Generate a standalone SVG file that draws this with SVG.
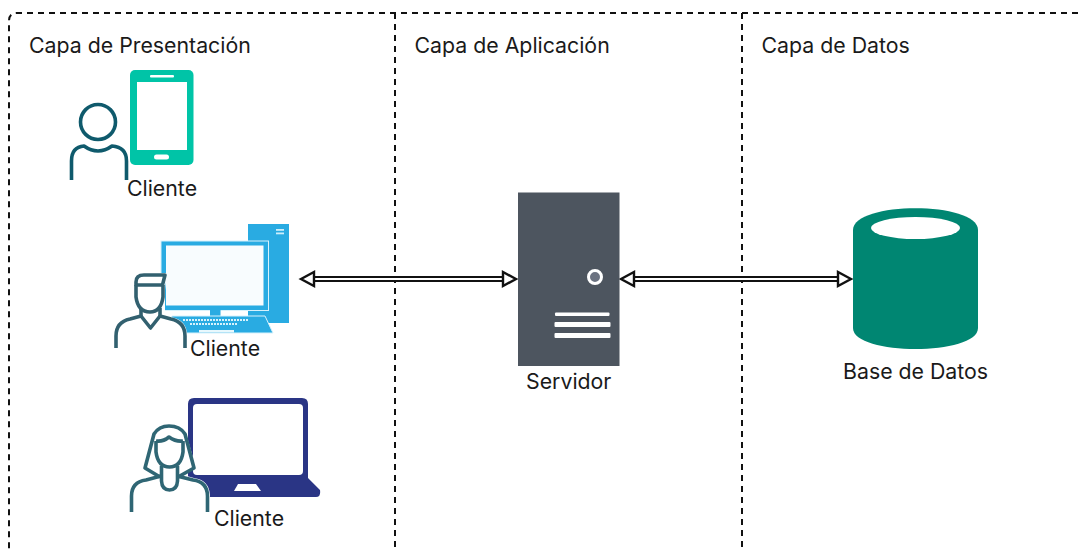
<svg xmlns="http://www.w3.org/2000/svg" width="1078" height="550" viewBox="0 0 1078 550">
<style>
text{font-family:Inter,"Liberation Sans",sans-serif;font-size:21.3px;fill:#1a1a1a}
.dash{fill:none;stroke:#111;stroke-width:2;stroke-dasharray:6 5}
.person{fill:none;stroke-width:3.600;stroke-linejoin:round}
.wire{stroke:#111;stroke-width:6;fill:none}
.wirei{stroke:#fff;stroke-width:2;fill:none}
.head{fill:#fff;stroke:#111;stroke-width:2.4;stroke-linejoin:miter}
</style>
<rect width="1078" height="550" fill="#fff"/>
<g id="lanes">
<path class="dash" d="M1078 13H17Q9 13 9 21V550"/>
<path class="dash" d="M395 13V550"/>
<path class="dash" d="M742 13V550"/>
<text x="29" y="52.500">Capa de Presentación</text>
<text x="414.500" y="52.500">Capa de Aplicación</text>
<text x="761.500" y="52.500">Capa de Datos</text>
</g>
<g id="connectors">
<path class="wire" d="M312 279H506"/><path class="wirei" d="M312 279H506"/>
<path class="head" d="M301 279L314 272V286Z"/><path class="head" d="M516 279L503 272V286Z"/>
<path class="wire" d="M632 279H840"/><path class="wirei" d="M632 279H840"/>
<path class="head" d="M621 279L634 272V286Z"/><path class="head" d="M851 279L838 272V286Z"/>
</g>
<g id="client-mobile">
<rect x="130" y="70" width="63.500" height="95" rx="5" fill="#00c4a7"/>
<rect x="137" y="82" width="50" height="68" fill="#fff"/>
<rect x="150" y="75" width="24" height="2.500" rx="1" fill="#fff"/>
<rect x="154" y="154.500" width="15" height="5" rx="2.500" fill="#fff"/>
<path d="M69 180V160Q70 145 84 144Q98 151 112 144Q128 145 129 160V180Z" fill="#fff"/>
<circle cx="98" cy="122" r="17.500" fill="#fff" stroke="#0f5a6c" stroke-width="3.600"/>
<path class="person" stroke="#0f5a6c" d="M71.500 180V161Q71.500 147 84 146Q98 156 112 146Q126.500 147 126.500 161V180"/>
<text x="127" y="195.500">Cliente</text>
</g>
<g id="client-desktop">
<rect x="248" y="224" width="41" height="99" fill="#29abe2"/>
<rect x="276" y="229" width="8" height="1.800" fill="#cdeefb"/><rect x="276" y="232.500" width="8" height="1.800" fill="#cdeefb"/>
<rect x="161" y="241" width="107.500" height="69.500" fill="#29abe2" stroke="#d8f2fc" stroke-width="1"/>
<rect x="166" y="245.500" width="97.500" height="60" fill="#f8fcfe"/>
<rect x="210" y="310" width="10.500" height="6" fill="#29abe2"/>
<path d="M172 316H265L273 333H164Z" fill="#29abe2" stroke="#d8f2fc" stroke-width="1"/>
<path d="M183 320H248M190 324H238" stroke="#d8f2fc" stroke-width="2" stroke-dasharray="2 1"/>
<rect x="199" y="330" width="35" height="2.500" fill="#e8f8fd"/>
<path d="M114 348V335Q115 320 130 317L134 314V282Q134 273 142 273H167L165 290V314L171 317Q187 320 187 335V348Z" fill="#fff"/>
<g class="person" stroke="#32606f">
<path d="M116 348V336Q116 322 130 319L141 316V308M185 348V336Q185 322 171 319L160 316V308"/>
<path d="M141 316L150.500 328L160 316"/>
<path d="M136 285V297Q138 312 150 312Q161 312 163 297V285"/>
<path d="M136 285V282Q136 275 144 275H165L162.500 285Z"/>
</g>
<text x="190" y="355.500">Cliente</text>
</g>
<g id="client-laptop">
<path d="M194 398H302Q308 398 308 404V478L320 490Q321 497 316 497H196Q190 497 188 490V404Q188 398 194 398Z" fill="#2a3585"/>
<rect x="193" y="404" width="110" height="71" rx="4" fill="#fff"/>
<path d="M238 484H256L261 491H234Z" fill="#fff"/>
<path d="M129 512V495Q130 480 146 478L159 474L142 468L151 433Q157 424 169 424Q181 424 186 433L196 468L180 474L194 478Q209 480 210 495V512Z" fill="#fff"/>
<g class="person" stroke="#2f6674">
<path d="M131.500 512V496Q131.500 482 146 480L161 476M207.500 512V496Q207.500 482 193 480L177 476"/>
<path d="M161.500 466V481Q162 490 169.500 490Q177 490 177.500 481V466"/>
<path d="M156 441V452Q158 467 169.500 467Q181 467 183 452V441"/>
<path d="M156 441Q163 442 169 437Q176 442 183 441"/>
<path d="M160 477L145 468L154 434Q159 426 169 426Q180 426 185 434L194 468L178 477"/>
</g>
<text x="214" y="525.500">Cliente</text>
</g>
<g id="server">
<rect x="518" y="192.500" width="101.500" height="173.500" fill="#4d555f"/>
<circle cx="595" cy="277" r="6.500" fill="#6b7280" stroke="#fff" stroke-width="3"/>
<rect x="555" y="312.500" width="54.500" height="3.500" rx="1" fill="#fff"/>
<rect x="554.500" y="322" width="56" height="5" rx="1" fill="#fff"/>
<rect x="554.500" y="333" width="56" height="5" rx="1" fill="#fff"/>
<text x="526" y="388.500">Servidor</text>
</g>
<g id="database">
<path d="M853 230C853 201 978 201 978 230V328C978 356 853 356 853 328Z" fill="#008672"/>
<ellipse cx="915.500" cy="228" rx="44.500" ry="11" fill="#fff"/>
<text x="843" y="378.500">Base de Datos</text>
</g>
</svg>
